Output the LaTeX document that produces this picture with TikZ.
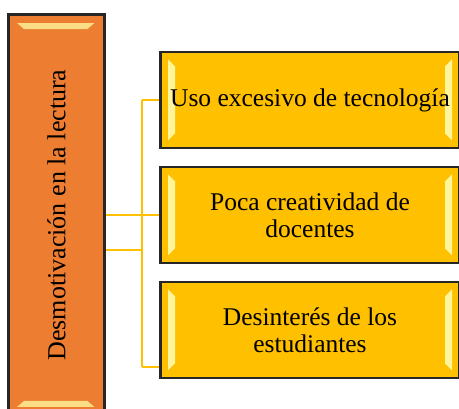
\documentclass[tikz,border=0pt]{standalone}
\usepackage{fontspec}
\setmainfont{Liberation Serif}
\usetikzlibrary{positioning}
\definecolor{naranja}{HTML}{ED7D31}
\definecolor{oro}{HTML}{FFC000}
\definecolor{brillo}{HTML}{FFF59A}

\tikzset{
    bisel/.style={fill=brillo, draw=none},
    caja/.style={draw=black!85, line width=1.6pt, fill=oro, minimum width=298pt,
        minimum height=95pt, align=center, inner sep=0pt,
        font=\fontsize{25.5}{27}\selectfont,
        path picture={
            \fill[bisel] ([shift={(7, 7)}]path picture bounding box.north west)
                -- ([shift={(14, 14)}]path picture bounding box.north west)
                -- ([shift={(14, -14)}]path picture bounding box.south west)
                -- ([shift={(7, -7)}]path picture bounding box.south west) -- cycle;
            \fill[bisel] ([shift={(-7, 7)}]path picture bounding box.north east)
                -- ([shift={(-14, 14)}]path picture bounding box.north east)
                -- ([shift={(-14, -14)}]path picture bounding box.south east)
                -- ([shift={(-7, -7)}]path picture bounding box.south east) -- cycle;
        }},
    tema/.style={draw=black!85, line width=1.6pt, fill=naranja, minimum width=400pt,
        minimum height=95pt, inner sep=0pt, rotate=90,
        font=\fontsize{26}{28}\selectfont},
    conector/.style={draw=oro, line width=2pt}
}

\begin{document}
\begin{tikzpicture}[x=1pt, y=-1pt]
    \useasboundingbox (0, 0) rectangle (459, 409);
    \clip (0, 0) rectangle (459, 409);

    % Main box (rotated text)
    \node[tema] (main) at (56.5, 215) {Desmotivación en la lectura};

    % Cause boxes
    \node[caja] (c1) at (310, 100) {Uso excesivo de tecnología};
    \node[caja] (c2) at (310, 215) {Poca creatividad de\\docentes};
    \node[caja] (c3) at (310, 330) {Desinterés de los\\estudiantes};

    % Bevel highlights of the main box
    \fill[bisel, opacity=0.8] ([shift={(9, 9)}]main.north east) -- ([shift={(86, 9)}]main.north east)
        -- ([shift={(79, 15)}]main.north east) -- ([shift={(16, 15)}]main.north east) -- cycle;
    \fill[bisel, opacity=0.8] ([shift={(9, -9)}]main.north west) -- ([shift={(86, -9)}]main.north west)
        -- ([shift={(79, -15)}]main.north west) -- ([shift={(16, -15)}]main.north west) -- cycle;

    % Connectors
    \coordinate (b0) at (142, 250);
    \coordinate (b1) at (142, 100);
    \coordinate (b3) at (142, 367);
    \draw[conector] (main.south |- c2.west) -- (c2.west);
    \draw[conector] (b0 -| main.south) -- (b0);
    \draw[conector] (b1) -- (b3);
    \draw[conector] (b1) -- (c1.west);
    \draw[conector] (b3) -- (b3 -| c3.west);

    % Redraw box borders over connectors
    \foreach \c in {c1, c2, c3} {
        \draw[draw=black!85, line width=1.6pt] (\c.north west) rectangle (\c.south east);
    }
    \draw[draw=black!85, line width=1.6pt] (main.north east) rectangle (main.south west);
\end{tikzpicture}
\end{document}
